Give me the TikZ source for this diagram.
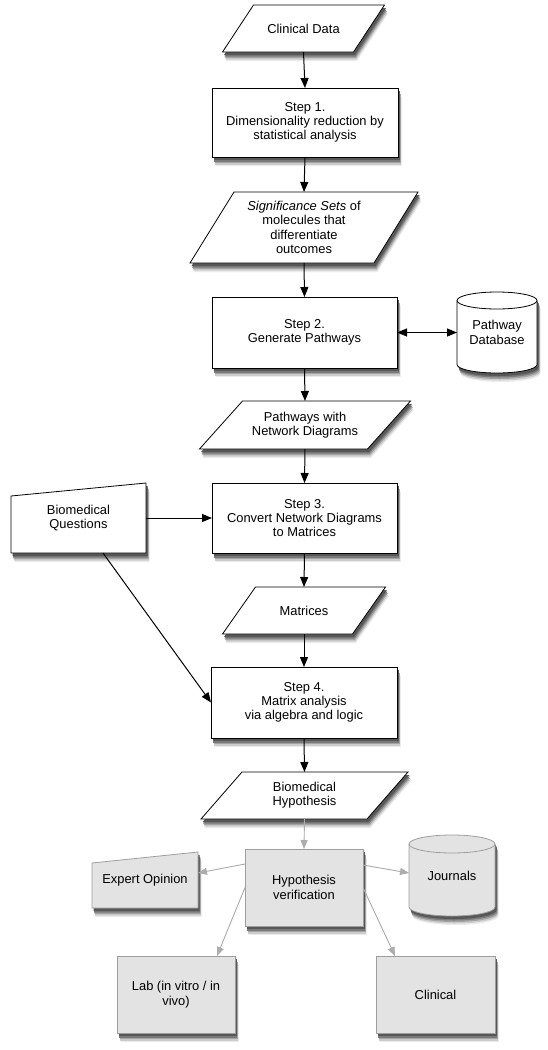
\documentclass[tikz,border=0pt]{standalone}
\usepackage{fontspec}
\setmainfont{Liberation Sans}
\usetikzlibrary{arrows.meta}
\pgfdeclarelayer{bg}
\pgfsetlayers{bg,main}
\tikzset{
  txt/.style={align=center, font=\fontsize{12.9}{14.3}\selectfont, inner sep=0pt, outer sep=0pt},
  outline/.style={draw=black, fill=white, line width=0.8pt},
  goutline/.style={draw=black!38, fill=black!11, line width=0.8pt},
  rimline/.style={draw=black, line width=0.8pt},
  grimline/.style={draw=black!38, line width=0.8pt},
  arr/.style={-{Triangle[length=10pt,width=8pt]}, line width=1pt, draw=black},
  darr/.style={{Triangle[length=10pt,width=8pt]}-{Triangle[length=10pt,width=8pt]}, line width=1pt, draw=black},
  garr/.style={-{Triangle[length=9pt,width=7pt]}, line width=0.9pt, draw=black!32, fill=black!32},
}
\newcommand{\shadowlist}{3.5/-9/8, 3/-7.5/20, 2.5/-6/36, 2/-4.5/52, 1.5/-3/66}
% rectangle around a node: #1 name, #2 style
\newcommand{\myrectshape}[2]{%
  \begin{pgfonlayer}{bg}
  \foreach \dx/\dy/\c in \shadowlist {
    \fill[black!\c] ([shift={(\dx,\dy)}]#1.north west) rectangle ([shift={(\dx,\dy)}]#1.south east);}
  \path[#2] (#1.north west) rectangle (#1.south east);
  \end{pgfonlayer}}
% parallelogram around a node: #1 name, #2 half slant, #3 style
\newcommand{\myparashape}[3]{%
  \begin{pgfonlayer}{bg}
  \foreach \dx/\dy/\c in \shadowlist {
    \fill[black!\c] ([shift={(#2+\dx,\dy)}]#1.north west) -- ([shift={(#2+\dx,\dy)}]#1.north east) --
      ([shift={(-#2+\dx,\dy)}]#1.south east) -- ([shift={(-#2+\dx,\dy)}]#1.south west) -- cycle;}
  \path[#3] ([xshift=#2]#1.north west) -- ([xshift=#2]#1.north east) --
    ([xshift=-#2]#1.south east) -- ([xshift=-#2]#1.south west) -- cycle;
  \end{pgfonlayer}}
% manual input (sloped top): #1 name, #2 drop of top-left corner, #3 style
\newcommand{\mymanualshape}[3]{%
  \begin{pgfonlayer}{bg}
  \foreach \dx/\dy/\c in \shadowlist {
    \fill[black!\c] ([shift={(\dx,\dy-#2)}]#1.north west) -- ([shift={(\dx,\dy)}]#1.north east) --
      ([shift={(\dx,\dy)}]#1.south east) -- ([shift={(\dx,\dy)}]#1.south west) -- cycle;}
  \path[#3] ([yshift=-#2]#1.north west) -- (#1.north east) --
    (#1.south east) -- (#1.south west) -- cycle;
  \end{pgfonlayer}}
% cylinder: #1 name, #2 half width, #3 y radius, #4 body style, #5 rim style
\newcommand{\mycylshape}[5]{%
  \begin{pgfonlayer}{bg}
  \foreach \dx/\dy/\c in \shadowlist {
    \fill[black!\c] ([shift={(\dx,\dy-#3)}]#1.north west) arc[x radius=#2, y radius=#3, start angle=180, end angle=0]
      -- ([shift={(\dx,\dy+#3)}]#1.south east) arc[x radius=#2, y radius=#3, start angle=0, end angle=-180] -- cycle;}
  \path[#4] ([yshift=-#3]#1.north west) arc[x radius=#2, y radius=#3, start angle=180, end angle=0]
    -- ([yshift=#3]#1.south east) arc[x radius=#2, y radius=#3, start angle=0, end angle=-180] -- cycle;
  \path[#5] ([yshift=-#3]#1.north west) arc[x radius=#2, y radius=#3, start angle=180, end angle=360];
  \end{pgfonlayer}}
\begin{document}
\begin{tikzpicture}[x=1pt,y=1pt]
\useasboundingbox (0,0) rectangle (548,-1050);

% main column
\node[txt, minimum width=131pt, minimum height=47pt] (cd) at (303.5,-28.5) {Clinical Data};
\myparashape{cd}{15.5}{outline}

\node[txt, minimum width=186pt, minimum height=69pt] (s1) at (305,-122.5)
  {Step 1.\\Dimensionality reduction by\\statistical analysis};
\myrectshape{s1}{outline}

\node[txt, minimum width=184pt, minimum height=71pt] (sig) at (304,-227.5)
  {\textit{Significance Sets} of\\molecules that\\differentiate\\outcomes};
\myparashape{sig}{22}{outline}

\node[txt, minimum width=185pt, minimum height=71pt] (s2) at (304.5,-332.5)
  {Step 2.\\Generate Pathways};
\myrectshape{s2}{outline}

\node[txt, minimum width=80pt, minimum height=81pt] (pdb) at (497,-332.5)
  {\raisebox{-4pt}{\parbox{70pt}{\centering Pathway\\Database}}};
\mycylshape{pdb}{40}{8.5}{outline}{rimline}

\node[txt, minimum width=168pt, minimum height=48pt] (pw) at (305,-425)
  {Pathways with\\Network Diagrams};
\myparashape{pw}{21.5}{outline}

\node[txt, minimum width=185pt, minimum height=70pt] (s3) at (304.5,-518)
  {Step 3.\\Convert Network Diagrams\\to Matrices};
\myrectshape{s3}{outline}

\node[txt, minimum width=135pt, minimum height=70pt] (bq) at (78.5,-518)
  {\raisebox{-3pt}{\parbox{120pt}{\centering Biomedical\\Questions}}};
\mymanualshape{bq}{13}{outline}

\node[txt, minimum width=130pt, minimum height=47pt] (mat) at (304,-610.5) {Matrices};
\myparashape{mat}{16.5}{outline}

\node[txt, minimum width=186pt, minimum height=71pt] (s4) at (304,-702.5)
  {Step 4.\\Matrix analysis\\via algebra and logic};
\myrectshape{s4}{outline}

\node[txt, minimum width=166pt, minimum height=47pt] (hyp) at (304.5,-795.5)
  {Biomedical\\Hypothesis};
\myparashape{hyp}{20.5}{outline}

% verification (gray)
\node[txt, minimum width=118pt, minimum height=77pt] (hv) at (304,-887.5)
  {Hypothesis\\verification};
\myrectshape{hv}{goutline}

\node[txt, minimum width=106pt, minimum height=56pt] (eo) at (145,-880)
  {\raisebox{-2pt}{Expert Opinion}};
\mymanualshape{eo}{11}{goutline}

\node[txt, minimum width=86pt, minimum height=81pt] (jr) at (452,-875.5)
  {\raisebox{-4pt}{Journals}};
\mycylshape{jr}{43}{9}{goutline}{grimline}

\node[txt, minimum width=118pt, minimum height=77pt] (lab) at (176,-994.5)
  {Lab (in vitro / in\\vivo)};
\myrectshape{lab}{goutline}
\node[txt, minimum width=119pt, minimum height=77pt] (cl) at (435.5,-994.5)
  {Clinical};
\myrectshape{cl}{goutline}

% connectors
\draw[arr] (cd.south) -- (s1.north);
\draw[arr] (s1.south) -- (sig.north);
\draw[arr] (sig.south) -- (s2.north);
\draw[darr] (s2.east) -- (pdb.west);
\draw[arr] (s2.south) -- (pw.north);
\draw[arr] (pw.south) -- (s3.north);
\draw[arr] (bq.east) -- (s3.west);
\draw[arr] (s3.south) -- (mat.north);
\draw[arr] ([xshift=24.5pt]bq.south) -- (s4.west);
\draw[arr] (mat.south) -- (s4.north);
\draw[arr] (s4.south) -- (hyp.north);

\draw[garr] (hyp.south) -- (hv.north);
\draw[garr] ([yshift=-15pt]hv.north west) -- ([yshift=7pt]eo.east);
\draw[garr] ([yshift=-16pt]hv.north east) -- ([yshift=2.5pt]jr.west);
\draw[garr] (hv.west) -- ([xshift=41pt]lab.north);
\draw[garr] (hv.east) -- ([xshift=-40.5pt]cl.north);
\end{tikzpicture}
\end{document}
